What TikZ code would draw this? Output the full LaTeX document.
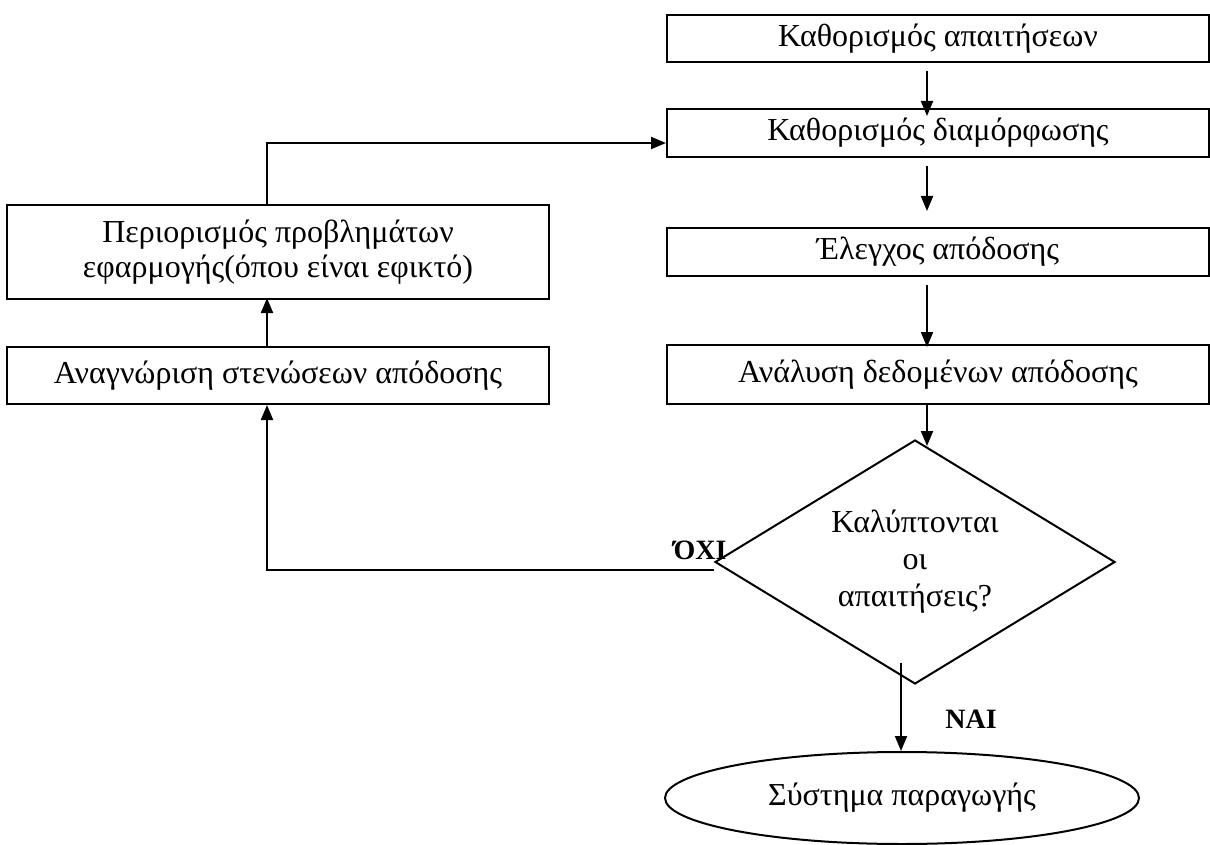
\documentclass[tikz,border=0pt]{standalone}
\usepackage{fontspec}
\setmainfont{Liberation Serif}
\usetikzlibrary{shapes.geometric,arrows.meta}
\begin{document}
\begin{tikzpicture}[x=1pt,y=-1pt,
  box/.style={draw,line width=2pt,minimum width=542pt,inner sep=0pt,align=center,
              font=\fontsize{32}{35}\selectfont},
  decision/.style={draw,diamond,line width=2pt,aspect=1.64,minimum width=400pt,
              minimum height=244pt,inner sep=0pt,align=center,font=\fontsize{32}{37}\selectfont},
  terminal/.style={draw,ellipse,line width=2pt,minimum width=474pt,minimum height=92pt,
              inner sep=0pt,font=\fontsize{32}{35}\selectfont},
  arr/.style={line width=2pt,-{Triangle[length=15pt,width=12pt]}},
  tag/.style={font=\fontsize{28}{30}\selectfont\bfseries,inner sep=0pt}]
\useasboundingbox (0,0) rectangle (1210,845);

% main column
\node[box,minimum height=47pt] (b1) at (938,38.5) {Καθορισμός απαιτήσεων};
\node[box,minimum height=48pt] (b2) at (938,133) {Καθορισμός διαμόρφωσης};
\node[box,minimum height=48pt] (b3) at (938,252) {Έλεγχος απόδοσης};
\node[box,minimum height=59pt] (b4) at (938,374.5) {Ανάλυση δεδομένων απόδοσης};
\node[decision] (dia) at (915,562) {Καλύπτονται\\οι\\απαιτήσεις?};
\node[terminal] (ell) at (902,798) {Σύστημα παραγωγής};

% feedback column
\node[box,minimum height=94pt,font=\fontsize{32}{35}\selectfont] (L1) at (278,252)
  {Περιορισμός προβλημάτων\\εφαρμογής(όπου είναι εφικτό)};
\node[box,minimum height=57pt] (L2) at (278,375.5) {Αναγνώριση στενώσεων απόδοσης};

% helper positions for the vertical runs
\coordinate (ax) at (927,0);
\coordinate (nx) at (901,0);
\coordinate (lx) at (267,0);
\coordinate (loopy) at (0,143);

% main flow
\draw[arr,shorten <=8pt,shorten >=-8pt] (b1.south -| ax) -- (b2.north -| ax);
\draw[arr,shorten <=8pt,shorten >=16pt] (b2.south -| ax) -- (b3.north -| ax);
\draw[arr,shorten <=8pt,shorten >=-3pt] (b3.south -| ax) -- (b4.north -| ax);
\draw[arr,shorten >=-7pt] (b4.south -| ax) -- (dia.north -| ax);
\draw[arr] ([yshift=22pt]dia.south -| nx) -- (ell.north -| nx);
\node[tag] (yes) at (971,719) {ΝΑΙ};

% feedback loop
\draw[arr] ([yshift=-8pt]dia.west) -| (L2.south -| lx);
\draw[arr,shorten >=-2pt] (L2.north -| lx) -- (L1.south -| lx);
\draw[arr] (L1.north -| lx) |- (b2.west |- loopy);
\node[tag] (no) at (700,550) {ΌΧΙ};
\end{tikzpicture}
\end{document}
